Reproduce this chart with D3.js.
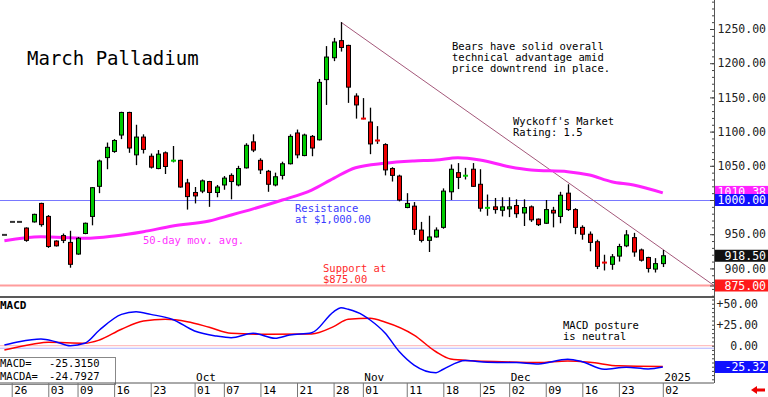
<!DOCTYPE html>
<html lang="en">
<head>
<meta charset="UTF-8">
<title>March Palladium</title>
<script src="https://d3js.org/d3.v7.min.js"></script>
<style>
  body { margin: 0; background: #fff; }
  svg { display: block; }
  text { font-family: "DejaVu Sans Mono", monospace; }
</style>
</head>
<body>
<svg width="768" height="397"></svg>
<script>
// trading-day index: 0 = Aug 26 2024 ... 89 = Jan 02 2025, first candle is index -1
var firstIdx = -1;
var opens  = [949,968,968,959,968,995,976,940,948,938,921,951,976,1020,1062,1071,1095,1128,1066,1092,1064,1046,1069,1057,1058,1025,1011,1013,1027,1011,1022,1036,1022,1047,1085,1058,1042,1022,1036,1053,1098,1065,1093,1088,1176,1208,1233,1226,1152,1120,1114,1088,1081,1046,1035,989,991,956,941,946,960,1012,1040,1035,1045,1023,988,990,985,987,992,981,990,972,966,985,976,1010,986,960,950,939,909,906,918,933,945,927,916,899,907];
var highs  = [949,968,968,960,980,996,978,941,951,955,946,967,1019,1059,1084,1089,1129,1129,1110,1096,1068,1073,1071,1079,1059,1031,1019,1030,1028,1022,1035,1039,1050,1083,1096,1061,1044,1040,1056,1096,1103,1097,1095,1177,1225,1237,1260,1227,1156,1149,1135,1108,1083,1048,1037,1010,997,968,977,960,1017,1052,1054,1047,1054,1045,1008,1003,1004,1004,1001,1001,992,973,1000,990,1012,1023,988,963,954,942,920,921,936,956,952,929,917,915,927];
var lows   = [949,968,968,939,967,961,930,932,937,901,920,950,963,1010,1045,1069,1089,1069,1051,1068,1046,1045,1038,1055,1018,986,995,1010,990,1004,1015,1001,1020,1046,1070,1038,1012,1020,1030,1052,1061,1064,1064,1087,1139,1203,1217,1142,1119,1118,1067,1082,1036,1027,998,988,949,938,924,945,958,1000,1016,1030,1019,983,977,980,976,975,974,962,968,962,965,960,966,984,950,942,925,899,897,898,910,931,917,910,894,894,902];
var closes = [949,968,968,941,979,964,932,933,941,906,944,966,1018,1057,1077,1087,1128,1076,1092,1074,1048,1067,1049,1058,1019,1005,1006,1028,1011,1019,1032,1027,1046,1080,1073,1044,1023,1034,1053,1093,1066,1095,1076,1172,1209,1231,1223,1165,1139,1118,1082,1086,1044,1036,1000,995,957,941,946,956,1013,1045,1033,1036,1020,988,989,986,990,990,980,989,971,964,986,981,1007,986,960,950,938,903,908,917,932,949,924,912,900,907,918.5];

// 50-day moving average, read at these day indexes
var maIdx = [-1,4,10,14,18,22,27,30,33,37,41,44,47,51,55,58,61,64,68,71,76,79,82,85,89];
var maVal = [940.5,946.3,944,947.4,953.7,962,969.3,978,987,1000,1014.6,1031.7,1047.2,1053.7,1057,1058.5,1061.8,1058.5,1048.7,1043.9,1041.4,1036.5,1026.8,1021.9,1010.4];

// MACD (blue) and MACDA signal (red)
var macdIdx = [-1,1,4,6,8,10,12,15,17,19,22,25,28,30,33,36,38,41,44,45,46,48,49,51,53,55,58,59,62,65,69,72,76,78,81,84,87,89];
var macdVal = [0.8,4.8,8,4.8,0,2.9,18.7,37.3,40.4,37.3,31.3,17.5,11.5,9.5,14.8,8.8,12.7,15.4,40.4,45.2,43.3,36.5,30.6,15.4,-7.2,-23,-32.1,-28,-17.7,-19.6,-20.1,-21.7,-16,-19,-28,-25.6,-27.6,-25.3];
var sigIdx  = [-1,3,5,10,12,15,18,21,24,27,30,35,41,44,46,49,51,55,58,60,63,67,72,76,79,83,89];
var sigVal  = [-5.2,2,4,2.9,6.8,19.6,29.4,31.4,28.6,22,14.8,13.6,14,22.7,31.4,32.6,28.3,12.7,-7.2,-15.8,-17.8,-19,-20.1,-18.1,-19.6,-24,-24.8];

// axis labels
var dayTickIdx = [0,5,9,14,19,25,29,34,39,44,48,54,59,64,68,73,78,83,89];
var dayTickLab = ["26","03","09","16","23","01","07","14","21","28","01","11","18","25","02","09","16","23","02"];
var monthIdx = [25,48,68,89];
var monthLab = ["Oct","Nov","Dec","2025"];
var priceTicks = [900,950,1000,1050,1100,1150,1200,1250];
var macdTicks = [50,25,0];

// trendline from the high down to support, levels
var trendIdx = [45,96];
var trendVal = [1260,875];
var resistance = 1000, support = 875;
var lastClose = 918.5, lastMa = 1010.38, lastMacd = -25.3150, lastMacda = -24.7927;

var svg = d3.select("svg");
var x = d3.scaleLinear().domain([-1.6, 96]).range([0, 714]);
var y = d3.scaleLinear().domain([858.2, 1292.4]).range([297, 0]);
var ym = d3.scaleLinear().domain([-44.4, 58]).range([383, 297]);

var plot = svg.append("g");

// horizontal levels
plot.append("line").attr("x1", 0).attr("x2", 714)
    .attr("y1", Math.round(y(resistance)) + 0.5).attr("y2", Math.round(y(resistance)) + 0.5)
    .attr("stroke", "#7878ff").attr("stroke-width", 1);
plot.append("line").attr("x1", 0).attr("x2", 714)
    .attr("y1", y(support)).attr("y2", y(support))
    .attr("stroke", "#ff9c9c").attr("stroke-width", 2);

// trendline
plot.append("line")
    .attr("x1", x(trendIdx[0])).attr("y1", y(trendVal[0]))
    .attr("x2", x(trendIdx[1])).attr("y2", y(trendVal[1]))
    .attr("stroke", "#a4587a").attr("stroke-width", 1);

// moving average
var maData = maIdx.map(function (d, k) { return {i: d, v: maVal[k]}; });
plot.append("path").datum(maData)
    .attr("fill", "none").attr("stroke", "#ff22ff").attr("stroke-width", 3)
    .attr("d", d3.line().x(function (d) { return x(d.i); }).y(function (d) { return y(d.v); })
        .curve(d3.curveMonotoneX));

// candles
var candles = opens.map(function (o, k) {
    return {i: firstIdx + k, o: o, h: highs[k], l: lows[k], c: closes[k]};
});
plot.selectAll(".wick").data(candles).enter().append("line")
    .attr("class", "wick")
    .attr("x1", function (d) { return Math.round(x(d.i)) + 0.5; })
    .attr("x2", function (d) { return Math.round(x(d.i)) + 0.5; })
    .attr("y1", function (d) { return y(d.h); })
    .attr("y2", function (d) { return y(d.l); })
    .attr("stroke", "#000").attr("stroke-width", 1.3);

plot.selectAll(".body").data(candles).enter().append("rect")
    .attr("class", "body")
    .each(function (d) {
        var cx = Math.round(x(d.i));
        var el = d3.select(this);
        var diff = Math.abs(d.c - d.o);
        if (diff < 3) {
            el.attr("x", cx - 2).attr("width", 5)
              .attr("y", y((d.o + d.c) / 2) - 1).attr("height", 2)
              .attr("fill", d.c > d.o ? "#00cc00" : d.c < d.o ? "#ee0000" : "#333");
        } else {
            var top = y(Math.max(d.o, d.c)), bot = y(Math.min(d.o, d.c));
            el.attr("x", cx - 1.5).attr("width", 4)
              .attr("y", top).attr("height", bot - top)
              .attr("fill", d.c > d.o ? "#00cc00" : "#ee0000")
              .attr("stroke", "#000").attr("stroke-width", 1);
        }
    });

// panel separator
svg.append("line").attr("x1", 0).attr("x2", 714).attr("y1", 297).attr("y2", 297)
    .attr("stroke", "#222").attr("stroke-width", 1.5);

// MACD panel
svg.append("line").attr("x1", 0).attr("x2", 714).attr("y1", ym(0)).attr("y2", ym(0))
    .attr("stroke", "#ffb0b0").attr("stroke-width", 1);
svg.append("line").attr("x1", 0).attr("x2", 714).attr("y1", ym(-3)).attr("y2", ym(-3))
    .attr("stroke", "#b0b0ff").attr("stroke-width", 1);

var mline = d3.line().x(function (d) { return x(d.i); }).y(function (d) { return ym(d.v); })
    .curve(d3.curveMonotoneX);
svg.append("path").datum(sigIdx.map(function (d, k) { return {i: d, v: sigVal[k]}; }))
    .attr("fill", "none").attr("stroke", "#ff0000").attr("stroke-width", 1.5).attr("d", mline);
svg.append("path").datum(macdIdx.map(function (d, k) { return {i: d, v: macdVal[k]}; }))
    .attr("fill", "none").attr("stroke", "#0000ff").attr("stroke-width", 1.5).attr("d", mline);

svg.append("text").attr("x", 0).attr("y", 309).attr("font-size", 11).attr("font-weight", "bold")
    .attr("font-family", "Liberation Sans, Arial, sans-serif").text("MACD");

// MACD readout box
svg.append("rect").attr("x", -1).attr("y", 357.5).attr("width", 116.5).attr("height", 27)
    .attr("fill", "#fff").attr("stroke", "#888").attr("stroke-width", 1);
svg.append("text").attr("x", 0).attr("y", 367).attr("font-size", 10.5).text("MACD=");
svg.append("text").attr("x", 49).attr("y", 367).attr("font-size", 10.5).text(d3.format(".4f")(lastMacd).replace("−", "-"));
svg.append("text").attr("x", 0).attr("y", 380).attr("font-size", 10.5).text("MACDA=");
svg.append("text").attr("x", 49).attr("y", 380).attr("font-size", 10.5).text(d3.format(".4f")(lastMacda).replace("−", "-"));

// date row
svg.append("line").attr("x1", 0).attr("x2", 714).attr("y1", 383).attr("y2", 383)
    .attr("stroke", "#555").attr("stroke-width", 1);
var xAxis = d3.axisBottom(x).tickValues(dayTickIdx).tickSize(14)
    .tickFormat(function (d, k) { return dayTickLab[k]; });
var xg = svg.append("g").attr("transform", "translate(0,383)").call(xAxis);
xg.select(".domain").remove();
xg.selectAll(".tick line").attr("stroke", "#777");
xg.selectAll(".tick text").attr("text-anchor", "start").attr("x", 2).attr("y", 3)
    .attr("font-size", 11).attr("font-family", "DejaVu Sans Mono, monospace").attr("fill", "#000");

var mAxis = d3.axisTop(x).tickValues(monthIdx).tickSize(0)
    .tickFormat(function (d, k) { return monthLab[k]; });
var mg = svg.append("g").attr("transform", "translate(0,382)").call(mAxis);
mg.select(".domain").remove();
mg.selectAll(".tick text").attr("text-anchor", "start").attr("x", 1).attr("y", -1)
    .attr("font-size", 11).attr("font-family", "DejaVu Sans Mono, monospace").attr("fill", "#000");

// right axis
svg.append("line").attr("x1", 714.5).attr("x2", 714.5).attr("y1", 0).attr("y2", 383)
    .attr("stroke", "#555").attr("stroke-width", 1);
var minor = svg.append("g").attr("transform", "translate(714,0)")
    .call(d3.axisLeft(y).tickValues(d3.range(860, 1291, 10)).tickSize(2).tickFormat(""));
minor.select(".domain").remove();
var major = svg.append("g").attr("transform", "translate(714,0)")
    .call(d3.axisLeft(y).tickValues(priceTicks.concat([875])).tickSize(4).tickFormat(""));
major.select(".domain").remove();
var mminor = svg.append("g").attr("transform", "translate(714,0)")
    .call(d3.axisLeft(ym).tickValues(d3.range(-40, 56, 5)).tickSize(2).tickFormat(""));
mminor.select(".domain").remove();
svg.selectAll(".tick line").filter(function () { return this.getAttribute("x2") < 0; })
    .attr("stroke", "#444");

var yAxis = d3.axisRight(y).tickValues(priceTicks).tickSize(0).tickFormat(d3.format(".2f"));
var yg = svg.append("g").attr("transform", "translate(714,0)").call(yAxis);
yg.select(".domain").remove();
yg.selectAll(".tick text").attr("x", 52).attr("text-anchor", "end")
    .attr("font-size", 11.5).attr("font-family", "DejaVu Sans Mono, monospace").attr("fill", "#222");

var ymAxis = d3.axisRight(ym).tickValues(macdTicks).tickSize(0)
    .tickFormat(function (d) { return (d > 0 ? "+" : "") + d3.format(".2f")(d); });
var ymg = svg.append("g").attr("transform", "translate(714,0)").call(ymAxis);
ymg.select(".domain").remove();
ymg.selectAll(".tick text").attr("x", 44).attr("text-anchor", "end")
    .attr("font-size", 11.5).attr("font-family", "DejaVu Sans Mono, monospace").attr("fill", "#222");

// value boxes on the right axis
function valueBox(yy, fill, label) {
    svg.append("rect").attr("x", 715).attr("y", yy - 6).attr("width", 53).attr("height", 12).attr("fill", fill);
    svg.append("text").attr("x", 766).attr("y", yy + 4.2).attr("text-anchor", "end")
        .attr("font-size", 11.5).attr("fill", "#fff").text(label);
}
valueBox(y(lastMa) - 1, "#ff22ff", d3.format(".2f")(lastMa));
valueBox(y(resistance), "#1010ff", d3.format(".2f")(resistance));
valueBox(y(lastClose), "#111", d3.format(".2f")(lastClose));
valueBox(y(support), "#ff1a1a", d3.format(".2f")(support));
valueBox(ym(lastMacd), "#1010ff", d3.format(".2f")(lastMacd).replace("−", "-"));

// small red arrow bottom right
svg.append("path").attr("d", "M751,390 L757,386 L757,388.5 L765,388.5 L765,391.5 L757,391.5 L757,394 Z")
    .attr("fill", "#ee0000");

// annotations
function note(xx, yy, lines, color, size) {
    lines.forEach(function (t, k) {
        svg.append("text").attr("x", xx).attr("y", yy + k * (size + 0.5))
            .attr("font-size", size).attr("fill", color).text(t);
    });
}
svg.append("text").attr("x", 27).attr("y", 65).attr("font-size", 19).attr("fill", "#000").text("March Palladium");
note(452, 50, ["Bears have solid overall", "technical advantage amid", "price downtrend in place."], "#000", 10.5);
note(513, 125, ["Wyckoff's Market", "Rating: 1.5"], "#000", 10.5);
note(295, 212, ["Resistance", "at $1,000.00"], "#3a3aff", 10.5);
note(323, 271.5, ["Support at", "$875.00"], "#ff2a2a", 10.5);
note(143, 244, ["50-day mov. avg."], "#ff33ff", 10.5);
note(563, 329, ["MACD posture", "is neutral"], "#000", 10.5);
</script>
</body>
</html>
